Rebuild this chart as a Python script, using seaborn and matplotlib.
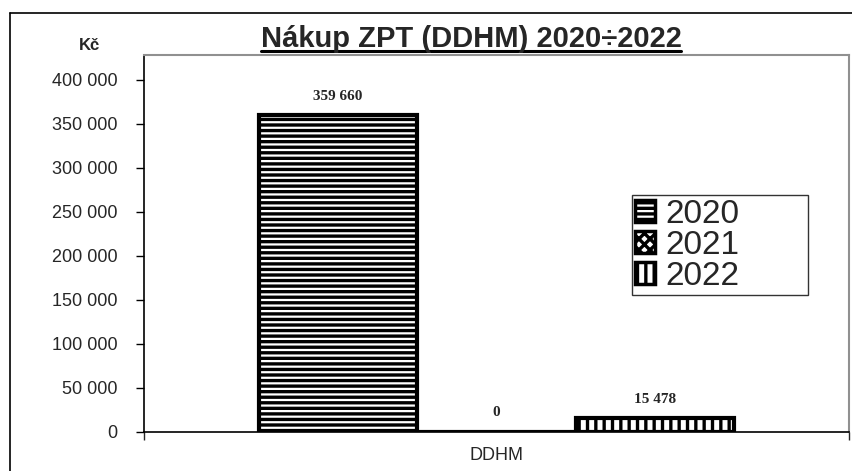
import pandas as pd
import seaborn as sns
import matplotlib.pyplot as plt
from matplotlib.lines import Line2D
from matplotlib.patches import Patch

# data
categories = ['DDHM']
years = ['2020', '2021', '2022']
values = [359660, 0, 15478]
hatches = ['---', 'xxx', '||']

df = pd.DataFrame({'kategorie': categories * len(years), 'rok': years, 'kc': values})

sns.set_style('white')
plt.rcParams['font.family'] = ['Liberation Sans', 'DejaVu Sans']
plt.rcParams['hatch.linewidth'] = 2.4
plt.rcParams['hatch.color'] = 'black'

fig = plt.figure(figsize=(8.53, 4.71), dpi=100)
ax = fig.add_axes([144 / 853, 1 - 432 / 471, 705 / 853, 377 / 471])

sns.barplot(data=df, x='kategorie', y='kc', hue='rok', ax=ax, width=0.674, gap=0,
            palette=['white'] * 3, edgecolor='black', linewidth=3, legend=False)

for cont, h in zip(ax.containers, hatches):
    for bar in cont:
        bar.set_hatch(h)
        bar.set_edgecolor('black')
        bar.set_facecolor('white')
    ax.bar_label(cont, labels=[f'{v:,.0f}'.replace(',', ' ') for v in cont.datavalues],
                 padding=9, fontsize=11, fontweight='bold', family='Liberation Serif')

ax.set_xlim(-0.5, 0.5)
ax.set_ylim(0, 428000)
ax.set_yticks(range(0, 400001, 50000))
ax.set_yticklabels([f'{v:,}'.replace(',', ' ') for v in range(0, 400001, 50000)], fontsize=13)
ax.tick_params(axis='y', direction='out', length=6, width=1, pad=13, left=True, color='black')
ax.set_xticks([0])
ax.set_xticklabels(categories, fontsize=13)
ax.tick_params(axis='x', length=0, pad=11)
ax.set_xticks([-0.5, 0.5], minor=True)
ax.tick_params(axis='x', which='minor', direction='out', length=6, width=1, bottom=True)
ax.set_xlabel('')
ax.set_ylabel('')

for s in ['left', 'bottom']:
    ax.spines[s].set_color('black')
    ax.spines[s].set_linewidth(1.2)
for s in ['top', 'right']:
    ax.spines[s].set_color('#909090')
    ax.spines[s].set_linewidth(1.5)

handles = [Patch(facecolor='white', edgecolor='black', hatch=h, linewidth=2.5) for h in hatches]
leg = ax.legend(handles, years, loc='lower left', bbox_to_anchor=(0.692, 0.363, 0.25, 0.266),
                mode='expand', borderaxespad=0,
                fontsize=24, frameon=True, fancybox=False, handlelength=0.6, handleheight=0.6,
                handletextpad=0.3, labelspacing=0.0, borderpad=0.1)
leg.get_frame().set_edgecolor('black')
leg.get_frame().set_linewidth(1)

# title with underline
title = fig.text(471 / 853, 1 - 47 / 471, 'Nákup ZPT (DDHM) 2020÷2022', ha='center', va='baseline',
                 fontsize=21, fontweight='bold')
fig.text(90 / 853, 1 - 50 / 471, 'Kč', ha='center', va='baseline', fontsize=12, fontweight='bold')

fig.canvas.draw()
bb = title.get_window_extent().transformed(fig.transFigure.inverted())
fig.add_artist(Line2D([bb.x0, bb.x1], [1 - 51 / 471] * 2, color='black', lw=2.2, transform=fig.transFigure))

# outer chart frame (cut off at right and bottom)
fig.add_artist(Line2D([10 / 853, 10 / 853], [0, 1 - 13 / 471], color='black', lw=1.2, transform=fig.transFigure))
fig.add_artist(Line2D([10 / 853, 1], [1 - 13 / 471] * 2, color='black', lw=1.2, transform=fig.transFigure))

fig.savefig('out.png', dpi=100)
